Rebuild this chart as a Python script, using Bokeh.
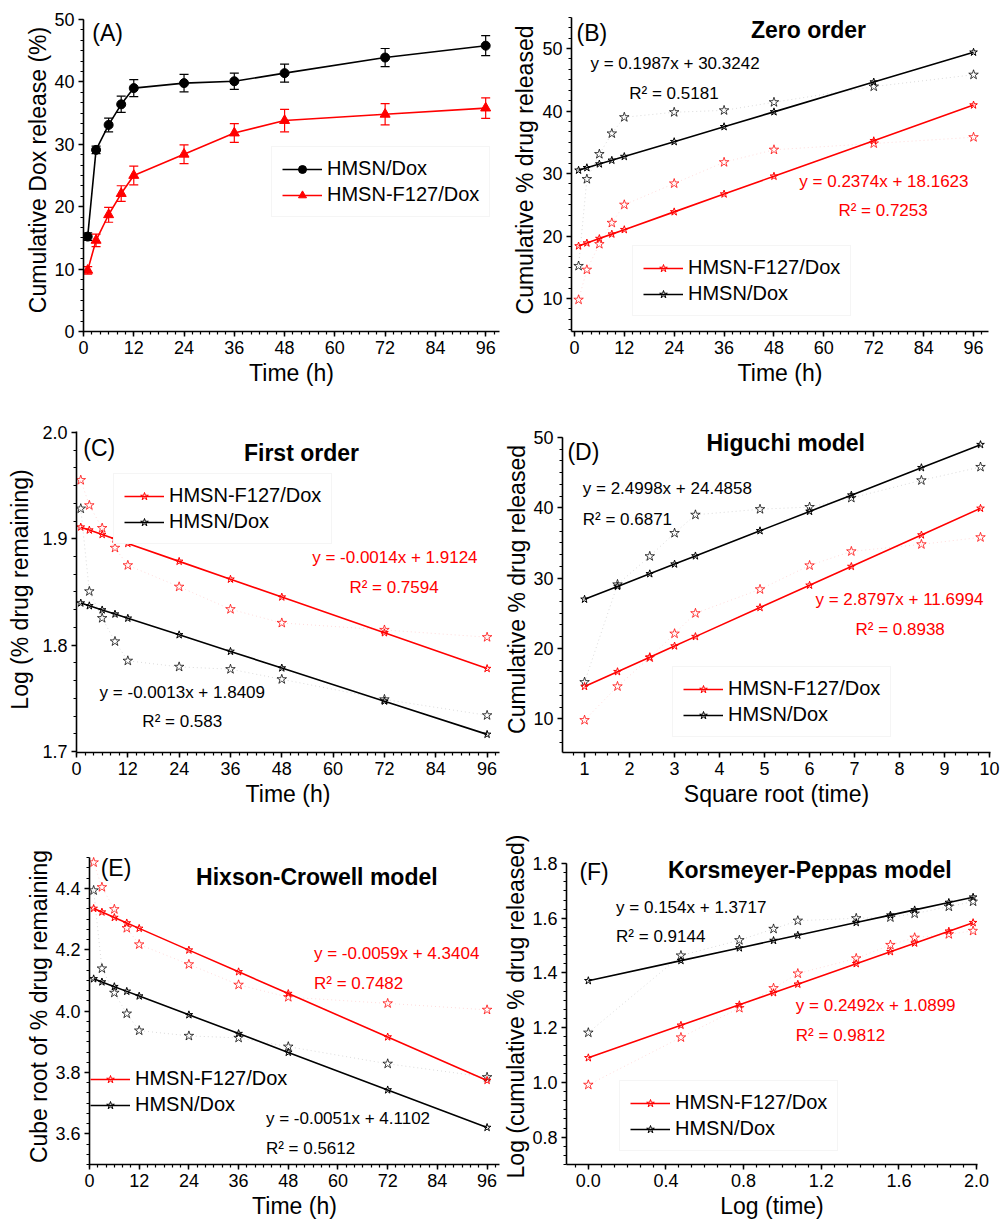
from bokeh.plotting import figure
from bokeh.layouts import column, row
from bokeh.models import (ColumnDataSource, Whisker, TeeHead, Label, Legend, LegendItem,
                          SingleIntervalTicker, NumeralTickFormatter, Range1d)
from bokeh.embed import file_html
from bokeh.resources import INLINE

FONT = "Liberation Sans"
RED = "#ff0000"
BLACK = "#000000"

# ---------------- data ----------------
time_h = [1, 3, 6, 9, 12, 24, 36, 48, 72, 96]
hmsn_release = [15.2, 29.1, 33.1, 36.4, 39.0, 39.8, 40.1, 41.4, 43.9, 45.8]
hmsn_err = [0.6, 0.6, 1.1, 1.3, 1.35, 1.4, 1.3, 1.45, 1.45, 1.6]
f127_release = [9.8, 14.6, 18.7, 22.1, 25.0, 28.4, 31.8, 33.8, 34.8, 35.8]
f127_err = [0.6, 1.0, 1.2, 1.25, 1.5, 1.5, 1.5, 1.8, 1.7, 1.65]

# (B) zero order: fitted values
zero_hmsn_fit = [30.52, 30.92, 31.52, 32.11, 32.71, 35.09, 37.48, 39.86, 44.63, 49.40]
zero_f127_fit = [18.40, 18.87, 19.59, 20.30, 21.01, 23.86, 26.71, 29.56, 35.24, 40.95]

# (C) first order: log(% remaining)
first_hmsn = [1.9284, 1.8506, 1.8254, 1.8035, 1.7853, 1.7796, 1.7774, 1.7679, 1.7490, 1.7340]
first_f127 = [1.9552, 1.9315, 1.9101, 1.8915, 1.8751, 1.8549, 1.8338, 1.8209, 1.8143, 1.8075]
first_hmsn_fit = [1.8396, 1.8370, 1.8331, 1.8292, 1.8253, 1.8097, 1.7941, 1.7785, 1.7473, 1.7161]
first_f127_fit = [1.9110, 1.9082, 1.9040, 1.8998, 1.8956, 1.8788, 1.8620, 1.8452, 1.8116, 1.7780]

# (D) Higuchi
sqrt_time = [1.000, 1.732, 2.449, 3.000, 3.464, 4.899, 6.000, 6.928, 8.485, 9.798]
hig_hmsn_fit = [26.99, 28.82, 30.61, 31.99, 33.15, 36.73, 39.48, 41.80, 45.70, 48.98]
hig_f127_fit = [14.58, 16.69, 18.75, 20.34, 21.68, 25.81, 28.98, 31.65, 36.13, 39.92]

# (E) Hixson-Crowell: cube root of % remaining
hix_hmsn = [4.3935, 4.1388, 4.0596, 3.9917, 3.9365, 3.9192, 3.9127, 3.8841, 3.8283, 3.7846]
hix_f127 = [4.4846, 4.4038, 4.3320, 4.2705, 4.2172, 4.1524, 4.0857, 4.0455, 4.0251, 4.0042]
hix_hmsn_fit = [4.1051, 4.0949, 4.0796, 4.0643, 4.0490, 3.9878, 3.9266, 3.8654, 3.7430, 3.6206]
hix_f127_fit = [4.3345, 4.3227, 4.3050, 4.2873, 4.2696, 4.1988, 4.1280, 4.0572, 3.9156, 3.7740]

# (F) Korsmeyer-Peppas
log_time = [0.0, 0.4771, 0.7782, 0.9542, 1.0792, 1.3802, 1.5563, 1.6812, 1.8573, 1.9823]
kp_hmsn = [1.1818, 1.4639, 1.5198, 1.5611, 1.5911, 1.5999, 1.6031, 1.6170, 1.6425, 1.6609]
kp_f127 = [0.9912, 1.1644, 1.2718, 1.3444, 1.3979, 1.4533, 1.5024, 1.5289, 1.5416, 1.5539]
kp_hmsn_fit = [1.3717, 1.4452, 1.4915, 1.5186, 1.5379, 1.5843, 1.6114, 1.6306, 1.6577, 1.6770]
kp_f127_fit = [1.0899, 1.2088, 1.2838, 1.3277, 1.3588, 1.4338, 1.4777, 1.5089, 1.5527, 1.5839]

LBL_H = "HMSN/Dox"
LBL_F = "HMSN-F127/Dox"


def make_fig(w, h, bl, br, bt, bb, xr, yr, xint, yint, xlabel, ylabel,
             xfmt=None, yfmt=None, xminor=6, yminor=6, ylab_standoff=6, ybounds=None):
    p = figure(width=w, height=h, x_range=Range1d(*xr), y_range=Range1d(*yr),
               output_backend="svg", toolbar_location=None, title=None,
               min_border_left=bl, min_border_right=br,
               min_border_top=bt, min_border_bottom=bb)
    p.outline_line_color = None
    p.grid.visible = False
    p.background_fill_color = "white"
    p.border_fill_color = "white"
    p.xaxis.ticker = SingleIntervalTicker(interval=xint, num_minor_ticks=xminor)
    p.yaxis.ticker = SingleIntervalTicker(interval=yint, num_minor_ticks=yminor)
    if xfmt:
        p.xaxis.formatter = NumeralTickFormatter(format=xfmt)
    if yfmt:
        p.yaxis.formatter = NumeralTickFormatter(format=yfmt)
    if ybounds:
        p.yaxis.bounds = ybounds
    for ax in (p.xaxis[0], p.yaxis[0]):
        ax.axis_line_width = 1.6
        ax.axis_line_color = "black"
        ax.major_tick_line_width = 1.5
        ax.minor_tick_line_width = 1.2
        ax.major_tick_out = 5
        ax.major_tick_in = 0
        ax.minor_tick_out = 3
        ax.minor_tick_in = 0
        ax.major_label_text_font = FONT
        ax.major_label_text_font_size = "18px"
        ax.major_label_text_color = "black"
        ax.axis_label_text_font = FONT
        ax.axis_label_text_font_size = "23px"
        ax.axis_label_text_font_style = "normal"
        ax.axis_label_text_color = "black"
        ax.major_label_standoff = 4
    p.xaxis.axis_label = xlabel
    p.yaxis.axis_label = ylabel
    p.xaxis.axis_label_standoff = 3
    p.yaxis.axis_label_standoff = ylab_standoff
    return p


def add_text(p, x, y, text, size="17px", color=BLACK, bold=False, align="left"):
    p.add_layout(Label(x=x, y=y, text=text, text_font=FONT, text_font_size=size,
                       text_color=color, text_font_style="bold" if bold else "normal",
                       text_baseline="middle", text_align=align))


def add_legend(p, items, loc, boxed=True):
    lg = Legend(items=items, location=loc, label_text_font=FONT,
                label_text_font_size="20px", label_text_color="black",
                glyph_width=40, glyph_height=20, label_height=22, label_standoff=5,
                spacing=3, padding=10, margin=0,
                border_line_color="#ececec" if boxed else None, border_line_width=1,
                background_fill_color="white",
                background_fill_alpha=1 if boxed else 0)
    p.add_layout(lg)


def model_panel(p, x, d_h, d_f, fit_h, fit_f):
    out = {}
    for name, d, fit, col in (("h", d_h, fit_h, BLACK), ("f", d_f, fit_f, RED)):
        p.line(x, d, line_color=col, line_alpha=0.15, line_width=1, line_dash="1 3")
        p.scatter(x, d, marker="star", size=10, fill_alpha=0, line_color=col,
                  line_alpha=0.75, line_width=1)
        ln = p.line(x, fit, line_color=col, line_width=1.6)
        sc = p.scatter(x, fit, marker="star", size=8, fill_alpha=0, line_color=col,
                       line_width=1)
        out[name] = [ln, sc]
    return out


# ---------------- (A) ----------------  row 1: frames 8 -> 331
pA = make_fig(500, 400, 83, 1, 8, 69, (0, 99.3), (-0.01, 51.76), 12, 10,
              "Time (h)", "Cumulative Dox release (%)", ylab_standoff=0,
              ybounds=(-0.01, 50.01))
for rel, err, col in ((hmsn_release, hmsn_err, BLACK), (f127_release, f127_err, RED)):
    src = ColumnDataSource(dict(x=time_h, y=rel,
                                lo=[v - e for v, e in zip(rel, err)],
                                hi=[v + e for v, e in zip(rel, err)]))
    pA.add_layout(Whisker(source=src, base="x", upper="hi", lower="lo",
                          line_color=col, line_width=1.2,
                          upper_head=TeeHead(size=9, line_color=col, line_width=1.2),
                          lower_head=TeeHead(size=9, line_color=col, line_width=1.2)))
rA_hl = pA.line(time_h, hmsn_release, line_color=BLACK, line_width=1.6)
rA_hs = pA.scatter(time_h, hmsn_release, marker="circle", size=9, color=BLACK)
rA_fl = pA.line(time_h, f127_release, line_color=RED, line_width=1.6)
rA_fs = pA.scatter(time_h, f127_release, marker="triangle", size=10, color=RED)
add_text(pA, 2.1, 47.8, "(A)", size="23px")
add_legend(pA, [LegendItem(label=LBL_H, renderers=[rA_hl, rA_hs]),
                LegendItem(label=LBL_F, renderers=[rA_fl, rA_fs])], (188, 114))

# ---------------- (B) ----------------
pB = make_fig(500, 400, 71, 12, 8, 69, (-0.7, 99.6), (4.72, 56.4), 12, 10,
              "Time (h)", "Cumulative % drug released", ylab_standoff=1,
              ybounds=(4.72, 55))
rB = model_panel(pB, time_h, hmsn_release, f127_release, zero_hmsn_fit, zero_f127_fit)
add_text(pB, 0.5, 52.5, "(B)", size="23px")
add_text(pB, 56.3, 53.0, "Zero order", size="23px", bold=True, align="center")
add_text(pB, 3.85, 47.55, "y = 0.1987x + 30.3242")
add_text(pB, 13.2, 42.8, "R² = 0.5181")
add_text(pB, 54.1, 28.7, "y = 0.2374x + 18.1623", color=RED)
add_text(pB, 63.5, 24.1, "R² = 0.7253", color=RED)
add_legend(pB, [LegendItem(label=LBL_F, renderers=rB["f"]),
                LegendItem(label=LBL_H, renderers=rB["h"])], (61, 15))

# ---------------- (C) ----------------  row 2: frames 426 -> 752
pC = make_fig(500, 412, 76, 1, 26, 60, (0, 98.9), (1.69905, 2.00564), 12, 0.1,
              "Time (h)", "Log (% drug remaining)", yfmt="0.0",
              ybounds=(1.69905, 2.0005))
rC = model_panel(pC, time_h, first_hmsn, first_f127, first_hmsn_fit, first_f127_fit)
add_text(pC, 1.6, 1.985, "(C)", size="23px")
add_text(pC, 52.6, 1.981, "First order", size="23px", bold=True, align="center")
add_text(pC, 55.1, 1.8824, "y = -0.0014x + 1.9124", color=RED)
add_text(pC, 63.8, 1.854, "R² = 0.7594", color=RED)
add_text(pC, 5.4, 1.7555, "y = -0.0013x + 1.8409")
add_text(pC, 15.4, 1.728, "R² = 0.583")
add_legend(pC, [LegendItem(label=LBL_F, renderers=rC["f"]),
                LegendItem(label=LBL_H, renderers=rC["h"])], (37, 208))

# ---------------- (D) ----------------
pD = make_fig(500, 412, 62, 10, 26, 60, (0.51, 10.02), (5.2, 51.56), 1, 10,
              "Square root (time)", "Cumulative % drug released", xminor=4,
              ylab_standoff=0, ybounds=(5.2, 50.05))
rD = model_panel(pD, sqrt_time, hmsn_release, f127_release, hig_hmsn_fit, hig_f127_fit)
add_text(pD, 0.62, 47.9, "(D)", size="23px")
add_text(pD, 5.47, 49.2, "Higuchi model", size="23px", bold=True, align="center")
add_text(pD, 0.96, 42.8, "y = 2.4998x + 24.4858")
add_text(pD, 0.96, 38.3, "R² = 0.6871")
add_text(pD, 6.13, 27.0, "y = 2.8797x + 11.6994", color=RED)
add_text(pD, 7.02, 22.7, "R² = 0.8938", color=RED)
add_legend(pD, [LegendItem(label=LBL_F, renderers=rD["f"]),
                LegendItem(label=LBL_H, renderers=rD["h"])], (110, 15))

# ---------------- (E) ----------------  row 3: frames 848 -> 1164
pE = make_fig(500, 412, 89, 1, 36, 60, (0, 99), (3.5, 4.53), 12, 0.2,
              "Time (h)", "Cube root of % drug remaining", yfmt="0.0",
              ylab_standoff=0, ybounds=(3.5, 4.5))
rE = model_panel(pE, time_h, hix_hmsn, hix_f127, hix_hmsn_fit, hix_f127_fit)
add_text(pE, 2.7, 4.465, "(E)", size="23px")
add_text(pE, 54.9, 4.436, "Hixson-Crowell model", size="23px", bold=True, align="center")
add_text(pE, 54.2, 4.189, "y = -0.0059x + 4.3404", color=RED)
add_text(pE, 54.2, 4.091, "R² = 0.7482", color=RED)
add_text(pE, 42.6, 3.649, "y = -0.0051x + 4.1102")
add_text(pE, 42.6, 3.551, "R² = 0.5612")
add_legend(pE, [LegendItem(label=LBL_F, renderers=rE["f"]),
                LegendItem(label=LBL_H, renderers=rE["h"])], (1, 48), boxed=False)

# ---------------- (F) ----------------
pF = make_fig(500, 412, 63, 23, 36, 60, (-0.1125, 2.005), (0.7, 1.855), 0.4, 0.2,
              "Log (time)", "Log (cumulative % drug released)",
              xfmt="0.0", yfmt="0.0", ylab_standoff=0, ybounds=(0.7, 1.8005))
rF = model_panel(pF, log_time, kp_hmsn, kp_f127, kp_hmsn_fit, kp_f127_fit)
add_text(pF, -0.046, 1.768, "(F)", size="23px")
add_text(pF, 1.141, 1.775, "Korsmeyer-Peppas model", size="23px", bold=True, align="center")
add_text(pF, 0.143, 1.640, "y = 0.154x + 1.3717")
add_text(pF, 0.143, 1.534, "R² = 0.9144")
add_text(pF, 1.069, 1.282, "y = 0.2492x + 1.0899", color=RED)
add_text(pF, 1.069, 1.172, "R² = 0.9812", color=RED)
add_legend(pF, [LegendItem(label=LBL_F, renderers=rF["f"]),
                LegendItem(label=LBL_H, renderers=rF["h"])], (53, 13))

layout = column(row(pA, pB), row(pC, pD), row(pE, pF))
open("out.html", "w").write(file_html(layout, INLINE, title="Drug release kinetics"))
